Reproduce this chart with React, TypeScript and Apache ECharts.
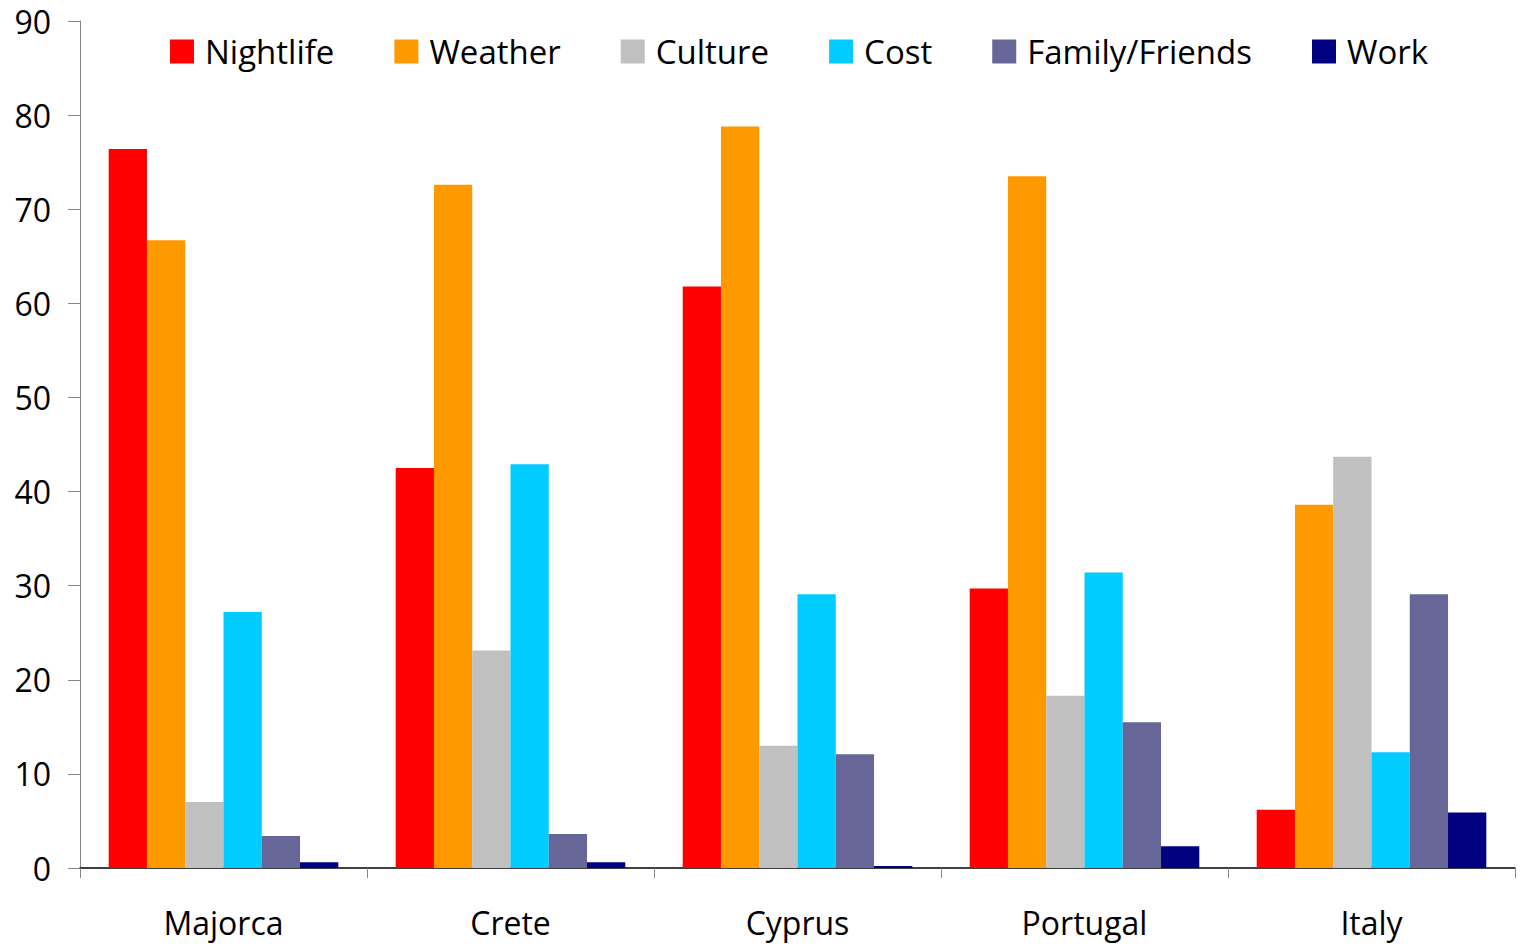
import React, { useEffect, useRef } from "react";
import * as echarts from "echarts";

const categories = ["Majorca", "Crete", "Cyprus", "Portugal", "Italy"];
const seriesNames = ["Nightlife", "Weather", "Culture", "Cost", "Family/Friends", "Work"];
const colors = ["#FF0000", "#FF9900", "#C0C0C0", "#00CCFF", "#666699", "#000080"];
const nightlife = [76.4, 42.5, 61.8, 29.7, 6.2];
const weather = [66.7, 72.6, 78.8, 73.5, 38.6];
const culture = [7.0, 23.1, 13.0, 18.3, 43.7];
const cost = [27.2, 42.9, 29.1, 31.4, 12.3];
const family = [3.4, 3.6, 12.1, 15.5, 29.1];
const work = [0.6, 0.6, 0.2, 2.3, 5.9];
const yTicks = [0, 10, 20, 30, 40, 50, 60, 70, 80, 90];

const FONT = "'Open Sans', 'Noto Sans', sans-serif";

export default function App() {
  const ref = useRef<HTMLDivElement>(null);
  useEffect(() => {
    if (!ref.current) return;
    const chart = echarts.init(ref.current, undefined, { renderer: "svg" });
    const data = [nightlife, weather, culture, cost, family, work];
    chart.setOption({
      animation: false,
      textStyle: { fontFamily: FONT },
      grid: { left: 80, right: 5, top: 21, bottom: 78 },
      legend: {
        data: seriesNames,
        left: 165,
        top: 30,
        itemWidth: 24,
        itemHeight: 24,
        itemGap: 60,
        icon: "rect",
        textStyle: { fontSize: 33, color: "#000", fontFamily: FONT, padding: [0, 0, 0, 6] },
      },
      xAxis: {
        type: "category",
        data: categories,
        axisLine: { lineStyle: { color: "#000", width: 1.5 } },
        axisTick: { show: true, length: 10, lineStyle: { color: "#868686" } },
        axisLabel: { fontSize: 32, lineHeight: 32, color: "#000", margin: 38, fontFamily: FONT },
      },
      yAxis: {
        type: "value",
        min: 0,
        max: 90,
        interval: 10,
        splitLine: { show: false },
        axisLine: { show: true, lineStyle: { color: "#868686" } },
        axisTick: { show: true, length: 12, lineStyle: { color: "#868686" } },
        axisLabel: {
          fontSize: 32,
          lineHeight: 30,
          color: "#000",
          margin: 29,
          fontFamily: FONT,
          formatter: (v: number) => (yTicks.includes(v) ? String(v) : ""),
        },
      },
      series: seriesNames.map((name, i) => ({
        name,
        type: "bar",
        data: data[i],
        barGap: "0%",
        barCategoryGap: "20%",
        itemStyle: { color: colors[i] },
      })),
    });
    return () => chart.dispose();
  }, []);
  return <div ref={ref} style={{ width: 1520, height: 946, position: "absolute", left: 0, top: 0 }} />;
}
